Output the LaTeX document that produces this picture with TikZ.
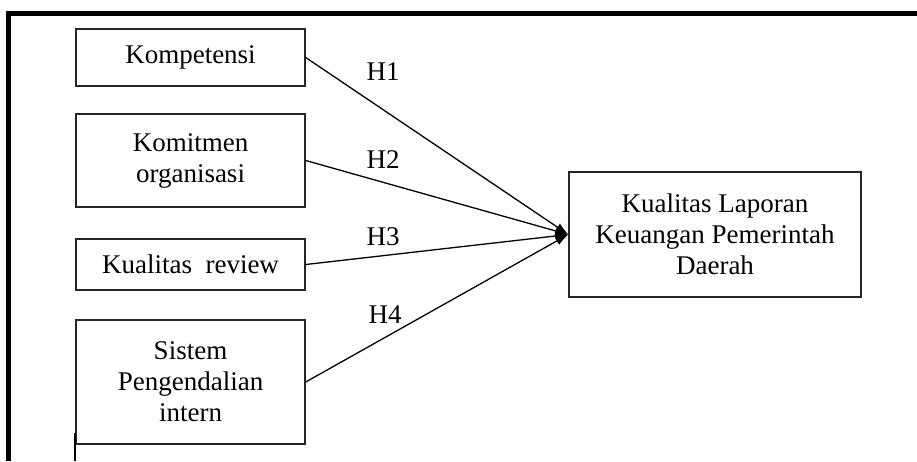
\documentclass[tikz,border=0pt]{standalone}
\usepackage{fontspec}
\setmainfont{Liberation Serif}
\usetikzlibrary{arrows.meta}
\begin{document}
\begin{tikzpicture}[x=1pt,y=-1pt,
  box/.style={draw=black!85,line width=1.4pt,inner sep=0pt,align=center,
    font=\fontsize{27}{31}\selectfont},
  hyp/.style={inner sep=0pt,font=\fontsize{27}{31}\selectfont},
  link/.style={line width=1.3pt,-{Latex[length=13pt,width=9pt]}}]
\useasboundingbox (0,0) rectangle (917,461);
\fill[white] (0,0) rectangle (917,461);
% frame
\draw[line width=5pt] (8.5,461) -- (8.5,13.5) -- (917,13.5);
% boxes
\node[box,minimum width=229pt,minimum height=57pt] (k) at (190.5,57.5) {Kompetensi};
\node[box,minimum width=229pt,minimum height=93pt] (c) at (190.5,160.5) {Komitmen\\organisasi};
\node[box,minimum width=229pt,minimum height=51pt] (r) at (190.5,264.5) {Kualitas\ \ review};
\node[box,minimum width=229pt,minimum height=124pt] (s) at (190.5,382) {Sistem\\Pengendalian\\intern};
\node[box,minimum width=292pt,minimum height=125pt] (t) at (715,234.5) {Kualitas Laporan\\Keuangan Pemerintah\\Daerah};
% stray line
\coordinate (sa) at (75,433);
\coordinate (sb) at (75,461);
\draw[line width=1.4pt] (sa) -- (sb);
% connectors
\draw[link] (k.east) -- (t.west);
\draw[link] (c.east) -- (t.west);
\draw[link] (r.east) -- (t.west);
\draw[link] (s.east) -- (t.west);
% labels
\node[hyp] (h1) at (383,72) {H1};
\node[hyp] (h2) at (383,160) {H2};
\node[hyp] (h3) at (383,237) {H3};
\node[hyp] (h4) at (385,315) {H4};
\end{tikzpicture}
\end{document}
